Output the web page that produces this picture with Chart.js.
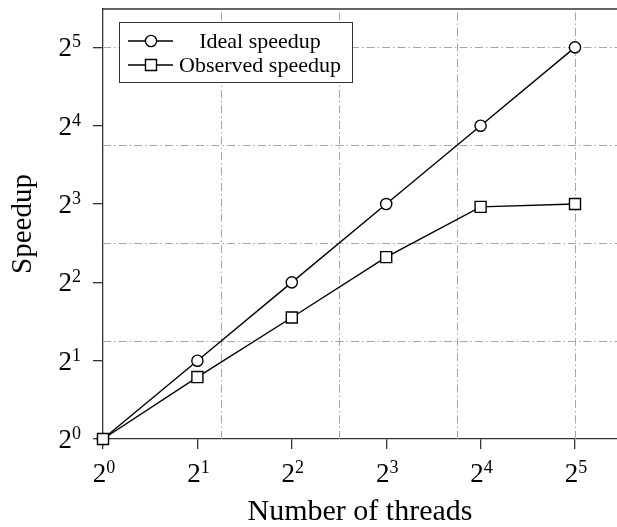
<!DOCTYPE html>
<html>
<head>
<meta charset="utf-8">
<script src="https://cdn.jsdelivr.net/npm/chart.js@4.4.1/dist/chart.umd.min.js"></script>
<style>
  html, body { margin: 0; padding: 0; background: #fff; overflow: hidden; }
</style>
</head>
<body>
<canvas id="speedup" width="617" height="527"></canvas>
<script>
// values (both axes are log2)
const threads = [1, 2, 4, 8, 16, 32]
const idealSpeedup = [1, 2, 4, 8, 16, 32]
const observedSpeedup = [1, 1.73, 2.93, 5.0, 7.8, 8.0]
const tickExponents = [0, 1, 2, 3, 4, 5]
const gridExponents = [1.25, 2.5, 3.75, 5]
const xMaxExponent = 5.445
const yMaxExponent = 5.49

const FONT = "'Liberation Serif', 'DejaVu Serif', serif"
const INK = '#333333'

function setTicks (scale) {
  scale.ticks = tickExponents.map((e) => ({ value: 2 ** e }))
}

function noPadding (scale) {
  scale.paddingTop = 0
  scale.paddingBottom = 0
  scale.paddingLeft = 0
  scale.paddingRight = 0
}

// draws "2" with a raised exponent; align 'center' or 'right' at x
function drawPower (ctx, exp, x, baseline, align) {
  ctx.font = '27px ' + FONT
  const baseW = ctx.measureText('2').width
  ctx.font = '18px ' + FONT
  const supW = ctx.measureText(String(exp)).width
  const total = baseW + supW
  const left = align === 'right' ? x - total : x - total / 2
  ctx.textAlign = 'left'
  ctx.textBaseline = 'alphabetic'
  ctx.font = '27px ' + FONT
  ctx.fillText('2', left, baseline)
  ctx.font = '18px ' + FONT
  ctx.fillText(String(exp), left + baseW, baseline - 9)
}

const gridAndLegend = {
  id: 'gridAndLegend',
  beforeDatasetsDraw (chart) {
    const { ctx, chartArea: a, scales: { x, y } } = chart
    ctx.save()
    ctx.strokeStyle = '#a6a6a6'
    ctx.lineWidth = 1
    ctx.setLineDash([8, 3, 1.5, 3])
    gridExponents.forEach((e) => {
      const px = Math.round(x.getPixelForValue(2 ** e)) + 0.5
      ctx.beginPath()
      ctx.moveTo(px, a.bottom)
      ctx.lineTo(px, a.top)
      ctx.stroke()
      const py = Math.round(y.getPixelForValue(2 ** e)) + 0.5
      ctx.beginPath()
      ctx.moveTo(a.left, py)
      ctx.lineTo(a.right, py)
      ctx.stroke()
    })
    ctx.restore()
  },
  afterDatasetsDraw (chart) {
    const { ctx, chartArea: a, scales: { x, y } } = chart
    ctx.save()
    // top edge of the axis box
    ctx.strokeStyle = INK
    ctx.lineWidth = 1.3
    ctx.beginPath()
    ctx.moveTo(a.left, a.top)
    ctx.lineTo(a.right, a.top)
    ctx.stroke()

    // tick labels as powers of two
    ctx.fillStyle = '#000'
    tickExponents.forEach((e) => {
      drawPower(ctx, e, x.getPixelForValue(2 ** e) + 1, a.bottom + 43, 'center')
      drawPower(ctx, e, a.left - 22, y.getPixelForValue(2 ** e) + 9, 'right')
    })

    // legend box
    const lx = a.left + 16
    const ly = a.top + 13
    const lw = 233
    const lh = 60
    ctx.fillStyle = '#fff'
    ctx.fillRect(lx, ly, lw, lh)
    ctx.strokeStyle = INK
    ctx.lineWidth = 1
    ctx.strokeRect(lx + 0.5, ly + 0.5, lw, lh)

    chart.data.datasets.forEach((ds, i) => {
      const rowY = ly + 19 + i * 24
      ctx.strokeStyle = '#000'
      ctx.lineWidth = 1.4
      ctx.beginPath()
      ctx.moveTo(lx + 9, rowY)
      ctx.lineTo(lx + 54, rowY)
      ctx.stroke()
      const mx = lx + 32
      ctx.fillStyle = '#fff'
      ctx.beginPath()
      if (ds.pointStyle === 'rect') {
        const s = ds.pointRadius * Math.SQRT1_2
        ctx.rect(mx - s, rowY - s, 2 * s, 2 * s)
      } else {
        ctx.arc(mx, rowY, ds.pointRadius, 0, Math.PI * 2)
      }
      ctx.fill()
      ctx.stroke()

      ctx.fillStyle = '#000'
      ctx.font = '22px ' + FONT
      ctx.textAlign = 'center'
      ctx.textBaseline = 'middle'
      ctx.fillText(ds.label, lx + 141, rowY + 1)
    })
    ctx.restore()
  }
}

const axisCommon = {
  type: 'logarithmic',
  min: 1,
  afterBuildTicks: setTicks,
  border: { display: true, color: INK, width: 1.3 },
  grid: {
    display: true,
    drawOnChartArea: false,
    drawTicks: true,
    tickLength: 10,
    tickWidth: 1.3,
    tickColor: INK,
    lineWidth: 1.3
  }
}

const config = {
  type: 'line',
  data: {
    datasets: [
      {
        label: 'Ideal speedup',
        data: threads.map((t, i) => ({ x: t, y: idealSpeedup[i] })),
        borderColor: '#000',
        borderWidth: 1.4,
        pointStyle: 'circle',
        pointRadius: 5.6,
        pointBorderWidth: 1.4,
        pointBackgroundColor: '#fff',
        pointBorderColor: '#000',
        tension: 0,
        clip: false,
        order: 2
      },
      {
        label: 'Observed speedup',
        data: threads.map((t, i) => ({ x: t, y: observedSpeedup[i] })),
        borderColor: '#000',
        borderWidth: 1.4,
        pointStyle: 'rect',
        pointRadius: 7.8,
        pointBorderWidth: 1.4,
        pointBackgroundColor: '#fff',
        pointBorderColor: '#000',
        tension: 0,
        clip: false,
        order: 1
      }
    ]
  },
  options: {
    responsive: false,
    animation: false,
    layout: { autoPadding: false, padding: { top: 9, left: 0, right: 0, bottom: 0 } },
    plugins: {
      legend: { display: false },
      tooltip: { enabled: false }
    },
    scales: {
      x: {
        ...axisCommon,
        position: 'bottom',
        max: 2 ** xMaxExponent,
        afterFit: (scale) => { scale.height = 88; noPadding(scale) },
        ticks: { display: false, autoSkip: false, maxRotation: 0 },
        title: {
          display: true,
          text: 'Number of threads',
          color: '#000',
          font: { family: FONT, size: 30, lineHeight: 1 },
          padding: { top: 0, bottom: 0 }
        }
      },
      y: {
        ...axisCommon,
        position: 'left',
        max: 2 ** yMaxExponent,
        afterFit: (scale) => { scale.width = 103; noPadding(scale) },
        ticks: { display: false, autoSkip: false },
        title: {
          display: true,
          text: 'Speedup',
          color: '#000',
          font: { family: FONT, size: 29, lineHeight: 1 },
          padding: { top: 9, bottom: 0 }
        }
      }
    }
  },
  plugins: [gridAndLegend]
}

new Chart(document.getElementById('speedup'), config) // eslint-disable-line
</script>
</body>
</html>
